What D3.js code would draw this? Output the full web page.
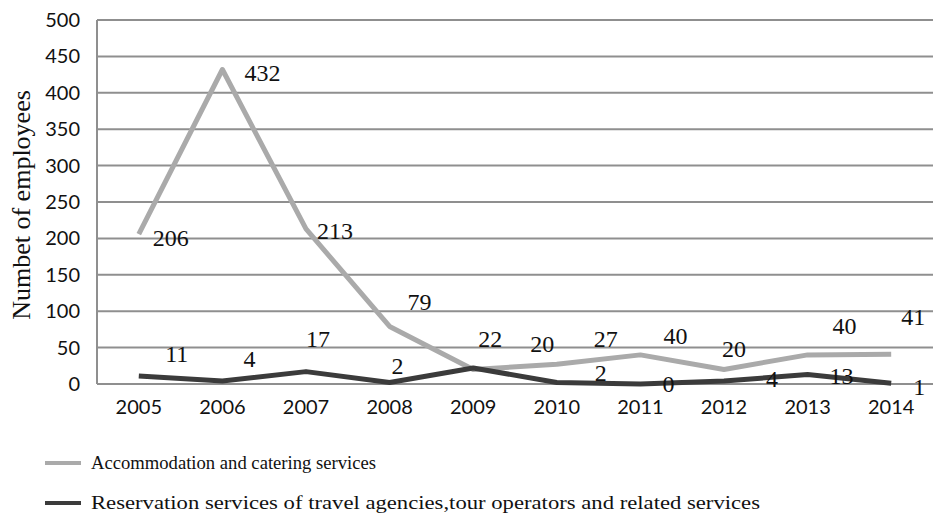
<!DOCTYPE html>
<html>
<head>
<meta charset="utf-8">
<script src="https://cdn.jsdelivr.net/npm/d3@7"></script>
<style>
  html, body { margin: 0; padding: 0; background: #fff; }
  svg { display: block; }
</style>
</head>
<body>
<svg id="chart" width="933" height="517"></svg>
<script>
// Employees by year in two tourism-related activities
const years = ["2005", "2006", "2007", "2008", "2009", "2010", "2011", "2012", "2013", "2014"];
const accommodation = [206, 432, 213, 79, 20, 27, 40, 20, 40, 41];
const reservation = [11, 4, 17, 2, 22, 2, 0, 4, 13, 1];
const yTicks = [0, 50, 100, 150, 200, 250, 300, 350, 400, 450, 500];
const seriesNames = [
  "Accommodation and catering services",
  "Reservation services of travel agencies,tour operators and related services"
];

// Label nudges (pixels, relative to each point)
const accNudge = [[32, 4], [40, 3], [29, 2], [30, -25], [69, -26], [49, -26], [35, -19], [10, -21], [37, -29], [22, -38]];
const resNudge = [[38, -22], [27, -22], [12, -33], [8, -17], [17, -29], [44, -10], [28, 0], [48, -2], [34, 1], [28, 3]];

const svg = d3.select("#chart");
const margin = { left: 97, right: 0, top: 20, bottom: 133 };
const W = 933, H = 517;

const x = d3.scaleBand().domain(years).range([margin.left, W - margin.right]);
const y = d3.scaleLinear().domain([0, 500]).range([H - margin.bottom, margin.top]);
const cx = d => x(d) + x.bandwidth() / 2;

// Horizontal gridlines
svg.append("g")
  .selectAll("line")
  .data(yTicks)
  .join("line")
  .attr("x1", margin.left)
  .attr("x2", W)
  .attr("y1", d => y(d))
  .attr("y2", d => y(d))
  .attr("stroke", "#8f8f8f")
  .attr("stroke-width", 2);

// Left axis line
svg.append("line")
  .attr("x1", margin.left).attr("x2", margin.left)
  .attr("y1", y(500)).attr("y2", y(0))
  .attr("stroke", "#8f8f8f").attr("stroke-width", 2);

// Y axis tick labels
const yAxis = d3.axisLeft(y).tickValues(yTicks).tickSize(0).tickPadding(17);
const gy = svg.append("g").attr("transform", `translate(${margin.left},0)`).call(yAxis);
gy.select(".domain").remove();
gy.selectAll("text")
  .attr("font-family", "Lato, 'Open Sans', sans-serif")
  .attr("font-size", 20)
  .attr("fill", "#111");

// X axis tick labels
const xAxis = d3.axisBottom(x).tickSize(0).tickPadding(16);
const gx = svg.append("g").attr("transform", `translate(0,${y(0)})`).call(xAxis);
gx.select(".domain").remove();
gx.selectAll("text")
  .attr("font-family", "Lato, 'Open Sans', sans-serif")
  .attr("font-size", 20)
  .attr("fill", "#111");

// Y axis title
svg.append("text")
  .attr("transform", `translate(30,${205}) rotate(-90)`)
  .attr("text-anchor", "middle")
  .attr("font-family", "'Liberation Serif', 'Times New Roman', serif")
  .attr("font-size", 26)
  .attr("fill", "#111")
  .text("Numbet of employees");

const line = d3.line()
  .x((d, i) => cx(years[i]))
  .y(d => y(d));

const series = [
  { values: accommodation, color: "#aaaaaa", nudge: accNudge },
  { values: reservation, color: "#3b3b3b", nudge: resNudge }
];

series.forEach(s => {
  svg.append("path")
    .datum(s.values)
    .attr("d", line)
    .attr("fill", "none")
    .attr("stroke", s.color)
    .attr("stroke-width", 5)
    .attr("stroke-linejoin", "round");
});

// Data labels
series.forEach(s => {
  svg.append("g")
    .selectAll("text")
    .data(s.values)
    .join("text")
    .attr("x", (d, i) => cx(years[i]) + s.nudge[i][0])
    .attr("y", (d, i) => y(d) + s.nudge[i][1])
    .attr("dy", "0.35em")
    .attr("text-anchor", "middle")
    .attr("font-family", "'Liberation Serif', 'Times New Roman', serif")
    .attr("font-size", 24)
    .attr("fill", "#111")
    .text(d => d);
});

// Legend
const legend = svg.append("g");
const legendRows = [
  { name: seriesNames[0], color: "#aaaaaa", y: 463, width: 285 },
  { name: seriesNames[1], color: "#3b3b3b", y: 503, width: 669 }
];
legendRows.forEach(r => {
  legend.append("line")
    .attr("x1", 45).attr("x2", 81)
    .attr("y1", r.y).attr("y2", r.y)
    .attr("stroke", r.color).attr("stroke-width", 4);
  legend.append("text")
    .attr("x", 91).attr("y", r.y)
    .attr("dy", "0.32em")
    .attr("font-family", "'Liberation Serif', 'Times New Roman', serif")
    .attr("font-size", 18)
    .attr("fill", "#111")
    .attr("textLength", r.width)
    .attr("lengthAdjust", "spacingAndGlyphs")
    .text(r.name);
});
</script>
</body>
</html>
